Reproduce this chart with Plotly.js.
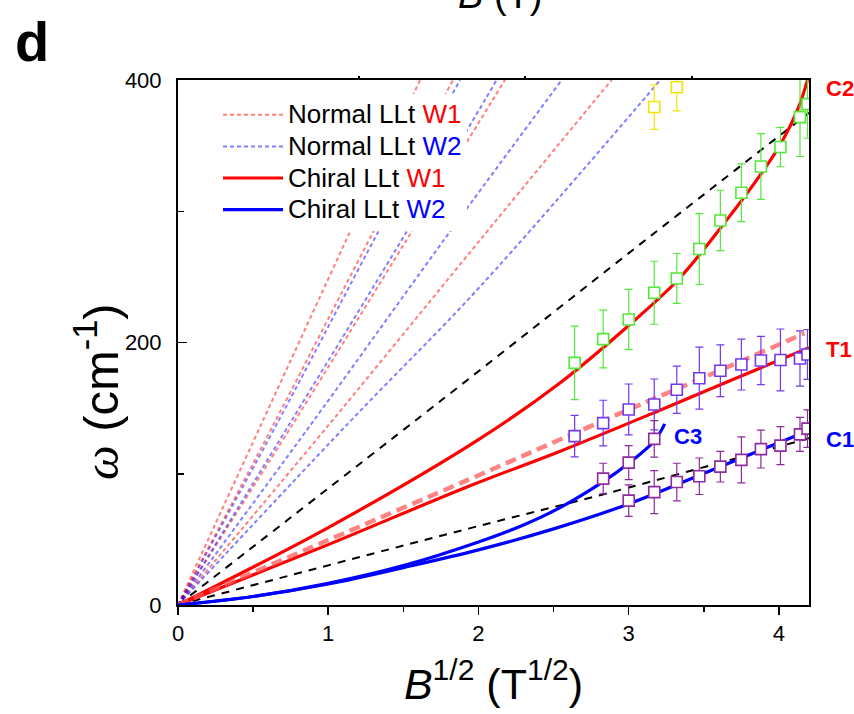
<!DOCTYPE html>
<html>
<head>
<meta charset="utf-8">
<script src="https://cdn.plot.ly/plotly-3.0.1.min.js"></script>
<style>html,body{margin:0;padding:0;background:#fff;}#chart{width:854px;height:714px;}</style>
</head>
<body>
<div id="chart"></div>
<script>
// ---------- data ----------
// Normal LLt W1 (red dashed)
const nW1a_x = [0, 0.557, 1.145, 1.611];
const nW1a_y = [0, 138.4, 284.4, 400];
const nW1b_x = [0, 0.640, 1.300, 1.830];
const nW1b_y = [0, 138.4, 284.4, 400];
const nW1c_x = [0, 0.767, 1.555, 2.176];
const nW1c_y = [0, 138.4, 284.4, 400];
const nW1d_x = [0, 1.012, 2.010, 2.886];
const nW1d_y = [0, 138.4, 278.0, 400];
// Normal LLt W2 (blue dashed)
const nW2a_x = [0, 0.660, 1.333, 1.877];
const nW2a_y = [0, 138.4, 284.4, 400];
const nW2b_x = [0, 0.745, 1.522, 2.121];
const nW2b_y = [0, 138.4, 284.4, 400];
const nW2c_x = [0, 0.890, 1.810, 2.554];
const nW2c_y = [0, 138.4, 284.4, 400];
const nW2d_x = [0, 1.133, 2.010, 3.210];
const nW2d_y = [0, 138.4, 242.5, 400];
// black dashed guides
const blkUp_x = [0, 1.77, 3.14, 4.2];
const blkUp_y = [0, 157.5, 280.6, 375];
const blkLo_x = [0, 1.94, 2.84, 3.99, 4.2];
const blkLo_y = [0, 58.4, 84.6, 120.4, 127];
// Chiral LLt W1 (red solid) : C2 and T1 branches
const chC2_x = [0, 1.0, 2.0, 2.54, 3.0, 3.33, 3.63, 3.89, 4.02, 4.13, 4.19];
const chC2_y = [0, 59, 126, 169, 213, 248, 290, 330, 353, 379, 400];
const chT1_x = [0, 1.0, 1.94, 2.54, 3.22, 3.67, 4.2];
const chT1_y = [0, 46, 90.7, 117, 149, 170.7, 196];
// T1 pale dashed
const t1d_x = [0, 1.0, 1.94, 2.57, 3.17, 3.37, 4.17];
const t1d_y = [0, 49.5, 95.8, 127.4, 157.3, 167, 207];
// Chiral LLt W2 (blue solid) : C1 and C3 branches
const chC1_x = [0, 0.5, 1.0, 1.5, 2.0, 2.5, 3.0, 3.6, 4.2];
const chC1_y = [0, 6.5, 16, 28.5, 42, 58, 77, 105, 133];
const chC3_x = [0, 0.5, 1.0, 1.5, 2.0, 2.3, 2.54, 2.83, 3.0, 3.17, 3.24];
const chC3_y = [0, 6.5, 16.5, 30, 48, 61, 74, 94, 108, 125, 138];
// experimental points
const ptX = [2.64, 2.83, 3.0, 3.17, 3.32, 3.47, 3.61, 3.75, 3.88, 4.01, 4.14, 4.19];
const c2Y = [184.5, 202.6, 217.5, 237.9, 248.8, 271.2, 293.0, 314.1, 334.1, 348.9, 371.7, 381.6];
const c2Err = [28, 22, 23, 24, 19, 27, 23, 22, 25, 15, 30, 26];
const yelX = [3.17, 3.32];
const yelY = [379.4, 394.5];
const yelErr = [17, 18];
const t1Y = [128.7, 138.6, 149, 152.8, 164, 172.8, 178.5, 183.2, 186.3, 186.7, 187.8, 190.9];
const t1Err = [15.8, 17.4, 19.4, 19.4, 18, 23.6, 19.7, 19.4, 18.4, 23.6, 21, 19];
const c3X = [2.83, 3.0, 3.17];
const c3Y = [96.3, 108.5, 126.6];
const c3Err = [11.7, 13, 13.9];
const c1X = [3.0, 3.17, 3.32, 3.47, 3.61, 3.75, 3.88, 4.01, 4.14, 4.19];
const c1Y = [79.5, 86, 93.7, 98.1, 105.4, 110.6, 118.8, 121.4, 130, 134.4];
const c1Err = [12, 16.4, 14.3, 13.9, 11.7, 17.5, 14.4, 14.5, 13, 14.3];
const topTicks = [1.205, 2.31, 3.42];
const yTickVals = [0, 200, 400];
const xTickVals = [0, 1, 2, 3, 4];
const legendNames = [
  'Normal LLt <span style="color:#ff0000">W1</span>',
  'Normal LLt <span style="color:#0000ff">W2</span>',
  'Chiral LLt <span style="color:#ff0000">W1</span>',
  'Chiral LLt <span style="color:#0000ff">W2</span>'
];

// ---------- styles ----------
const FONT = 'Liberation Sans, Arial, sans-serif';
const RED = '#ff0000', BLUE = '#0000ff';
const PALE_R = 'rgba(255,0,0,0.5)', PALE_B = 'rgba(0,0,255,0.5)';
const big = s => '<span style="font-size:26px">' + s + '</span>';

function line(x, y, color, width, dash, extra) {
  return Object.assign({x: x, y: y, mode: 'lines', type: 'scatter', hoverinfo: 'skip',
    line: {color: color, width: width, dash: dash, shape: 'spline', smoothing: 1}, showlegend: false}, extra || {});
}
function pts(x, y, err, color) {
  return {x: x, y: y, mode: 'markers', type: 'scatter', showlegend: false, hoverinfo: 'skip',
    marker: {symbol: 'square', size: 11, color: '#ffffff', line: {color: color, width: 1.6}},
    error_y: {type: 'data', array: err, visible: true, color: color, thickness: 1.2, width: 4}};
}
const ND = '4px,3px';
const traces = [
  line(nW1a_x, nW1a_y, PALE_R, 2, ND, {name: big(legendNames[0]), showlegend: true, legendgroup: 'n1', legendrank: 1}),
  line(nW2a_x, nW2a_y, PALE_B, 2, ND, {name: big(legendNames[1]), showlegend: true, legendgroup: 'n2', legendrank: 2}),
  line(nW1b_x, nW1b_y, PALE_R, 2, ND, {legendgroup: 'n1'}),
  line(nW1c_x, nW1c_y, PALE_R, 2, ND, {legendgroup: 'n1'}),
  line(nW1d_x, nW1d_y, PALE_R, 2, ND, {legendgroup: 'n1'}),
  line(nW2b_x, nW2b_y, PALE_B, 2, ND, {legendgroup: 'n2'}),
  line(nW2c_x, nW2c_y, PALE_B, 2, ND, {legendgroup: 'n2'}),
  line(nW2d_x, nW2d_y, PALE_B, 2, ND, {legendgroup: 'n2'}),
  line(blkUp_x, blkUp_y, '#000000', 2, '8px,7px'),
  line(blkLo_x, blkLo_y, '#000000', 2, '8px,7px'),
  line(chC2_x, chC2_y, RED, 3.2, 'solid', {name: big(legendNames[2]), showlegend: true, legendgroup: 'c1', legendrank: 3}),
  line(chT1_x, chT1_y, RED, 3.2, 'solid', {legendgroup: 'c1'}),
  line(t1d_x, t1d_y, 'rgba(255,90,90,0.75)', 4.5, '11px,6px'),
  line(chC1_x, chC1_y, BLUE, 3.2, 'solid', {name: big(legendNames[3]), showlegend: true, legendgroup: 'c2', legendrank: 4}),
  line(chC3_x, chC3_y, BLUE, 3.2, 'solid', {legendgroup: 'c2'}),
  pts(ptX, c2Y, c2Err, '#55e83c'),
  pts(yelX, yelY, yelErr, '#f2e600'),
  pts(ptX, t1Y, t1Err, '#7438ee'),
  pts(c3X, c3Y, c3Err, '#8e2a9e'),
  pts(c1X, c1Y, c1Err, '#8e2a9e'),
  {x: [], y: [], xaxis: 'x2', type: 'scatter', mode: 'markers', showlegend: false, hoverinfo: 'skip'}
];

function pX(px) { return (px - 178) / 631; }
function pY(py) { return (605 - py) / 525; }

const layout = {
  width: 854, height: 714,
  margin: {l: 178, r: 45, t: 80, b: 109},
  paper_bgcolor: '#ffffff', plot_bgcolor: '#ffffff',
  font: {family: FONT, color: '#000000', size: 22},
  showlegend: true,
  legend: {x: pX(218), y: pY(94), xanchor: 'left', yanchor: 'top', bgcolor: '#ffffff',
    borderwidth: 0, font: {family: FONT, size: 22, color: '#000000'}, itemwidth: 60,
    traceorder: 'normal', tracegroupgap: 0},
  xaxis: {range: [0, 4.2], tickvals: xTickVals, ticks: 'outside', ticklen: 8, tickwidth: 1.5,
    tickcolor: '#000', showline: true, linewidth: 2, linecolor: '#000', mirror: true,
    showgrid: false, zeroline: false, tickfont: {size: 22, family: FONT},
    minor: {dtick: 0.5, tick0: 0, ticks: 'outside', ticklen: 5, tickwidth: 1.5, tickcolor: '#000', showgrid: false},
    title: {text: '<i>B</i><sup>1/2</sup> (T<sup>1/2</sup>)', font: {size: 43, family: FONT}, standoff: 23},
    automargin: false},
  xaxis2: {overlaying: 'x', side: 'top', range: [0, 4.2], tickvals: topTicks, ticks: 'outside',
    ticklen: 3, tickwidth: 1.5, tickcolor: '#000', showticklabels: false, showgrid: false,
    zeroline: false, showline: false},
  yaxis: {range: [0, 400], tickvals: yTickVals, ticks: 'inside', ticklen: 9, tickwidth: 1.5,
    tickcolor: '#000', showline: true, linewidth: 2, linecolor: '#000', mirror: true,
    showgrid: false, zeroline: false, tickfont: {size: 22, family: FONT}, ticklabelstandoff: 10,
    minor: {dtick: 100, tick0: 0, ticks: 'inside', ticklen: 6, tickwidth: 1.5, tickcolor: '#000', showgrid: false},
    automargin: false},
  annotations: [
    {text: '<span style="font-family:Liberation Serif"><i>ω</i></span> (cm<sup>-1</sup>)', xref: 'paper', yref: 'paper',
      x: pX(97), y: pY(392), textangle: -90, showarrow: false, font: {size: 49, family: FONT},
      xanchor: 'center', yanchor: 'middle'},
    {text: '<b>C2</b>', xref: 'paper', yref: 'paper', x: pX(840), y: pY(88), showarrow: false,
      xanchor: 'center', yanchor: 'middle', font: {size: 22, color: RED, family: FONT}},
    {text: '<b>T1</b>', xref: 'paper', yref: 'paper', x: pX(839), y: pY(349), showarrow: false,
      xanchor: 'center', yanchor: 'middle', font: {size: 22, color: RED, family: FONT}},
    {text: '<b>C1</b>', xref: 'paper', yref: 'paper', x: pX(840), y: pY(439), showarrow: false,
      xanchor: 'center', yanchor: 'middle', font: {size: 22, color: BLUE, family: FONT}},
    {text: '<b>C3</b>', xref: 'paper', yref: 'paper', x: pX(688), y: pY(436), showarrow: false,
      xanchor: 'center', yanchor: 'middle', font: {size: 22, color: BLUE, family: FONT}},
    {text: '<b>d</b>', xref: 'paper', yref: 'paper', x: pX(32), y: pY(42), showarrow: false,
      font: {size: 56, family: FONT}, xanchor: 'center', yanchor: 'middle'},
    {text: '<i>B</i> (T)', xref: 'paper', yref: 'paper', x: pX(500), y: pY(18), showarrow: false,
      font: {size: 38, family: FONT}, xanchor: 'center', yanchor: 'bottom'}
  ]
};

Plotly.newPlot('chart', traces, layout, {displayModeBar: false, staticPlot: true});
</script>
</body>
</html>
